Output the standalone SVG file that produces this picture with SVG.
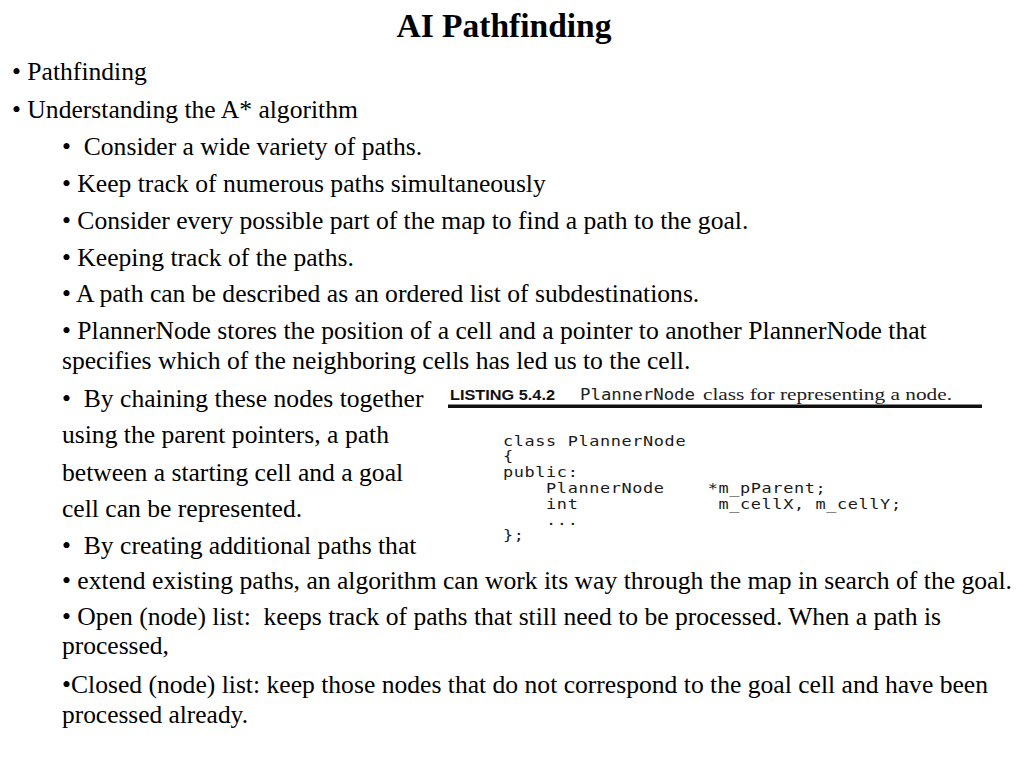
<svg xmlns="http://www.w3.org/2000/svg" width="1024" height="768" viewBox="0 0 1024 768">
<style>
.t{font-family:"Liberation Serif","Times New Roman",serif;font-size:25.6px;fill:#000;white-space:pre}
.title{font-family:"Liberation Serif","Times New Roman",serif;font-size:33.5px;font-weight:bold;fill:#000}
.code{font-family:"DejaVu Sans Mono","Liberation Mono",monospace;font-size:13.5px;letter-spacing:0.5px;fill:#1a1a1a;white-space:pre}
.lh{font-family:"Liberation Sans",Arial,sans-serif;font-size:14.5px;font-weight:bold;fill:#111}
.lm{font-family:"DejaVu Sans Mono","Liberation Mono",monospace;font-size:15px;fill:#222}
.ls{font-family:"Liberation Serif","Times New Roman",serif;font-size:17px;fill:#222}
</style>
<rect width="1024" height="768" fill="#fff"/>
<g id="title"><text class="title" x="504" y="37" text-anchor="middle">AI Pathfinding</text></g>
<g id="body">
<text class="t" x="12" y="80">• Pathfinding</text>
<text class="t" x="12" y="118">• Understanding the A* algorithm</text>
<text class="t" x="62" y="155">•  Consider a wide variety of paths.</text>
<text class="t" x="62" y="192">• Keep track of numerous paths simultaneously</text>
<text class="t" x="62" y="229">• Consider every possible part of the map to find a path to the goal.</text>
<text class="t" x="62" y="266">• Keeping track of the paths.</text>
<text class="t" x="62" y="302">• A path can be described as an ordered list of subdestinations.</text>
<text class="t" x="62" y="339">• PlannerNode stores the position of a cell and a pointer to another PlannerNode that</text>
<text class="t" x="62" y="369">specifies which of the neighboring cells has led us to the cell.</text>
<text class="t" x="62" y="407">•  By chaining these nodes together</text>
<text class="t" x="62" y="443">using the parent pointers, a path</text>
<text class="t" x="62" y="481">between a starting cell and a goal</text>
<text class="t" x="62" y="517">cell can be represented.</text>
<text class="t" x="62" y="554">•  By creating additional paths that</text>
<text class="t" x="62" y="589" textLength="950" lengthAdjust="spacingAndGlyphs">• extend existing paths, an algorithm can work its way through the map in search of the goal.</text>
<text class="t" x="62" y="625" textLength="879" lengthAdjust="spacingAndGlyphs">• Open (node) list:  keeps track of paths that still need to be processed. When a path is</text>
<text class="t" x="62" y="654" textLength="107" lengthAdjust="spacingAndGlyphs">processed,</text>
<text class="t" x="62" y="693" textLength="926" lengthAdjust="spacingAndGlyphs">•Closed (node) list: keep those nodes that do not correspond to the goal cell and have been</text>
<text class="t" x="62" y="723" textLength="186" lengthAdjust="spacingAndGlyphs">processed already.</text>
</g>
<g id="listing">
<text class="lh" x="450" y="400" textLength="105" lengthAdjust="spacingAndGlyphs">LISTING 5.4.2</text>
<text class="lm" x="580" y="400" textLength="115" lengthAdjust="spacingAndGlyphs">PlannerNode</text>
<text class="ls" x="703" y="400" textLength="249" lengthAdjust="spacingAndGlyphs">class for representing a node.</text>
<rect x="448" y="404.5" width="534" height="3.5" fill="#111"/>
<g transform="translate(503,0) scale(1.25,1)">
<text class="code" x="0" y="446">class PlannerNode</text>
<text class="code" x="0" y="461">{</text>
<text class="code" x="0" y="477">public:</text>
<text class="code" x="0" y="493">    PlannerNode    *m_pParent;</text>
<text class="code" x="0" y="509">    int             m_cellX, m_cellY;</text>
<text class="code" x="0" y="525">    ...</text>
<text class="code" x="0" y="540">};</text>
</g>
</g>
</svg>
